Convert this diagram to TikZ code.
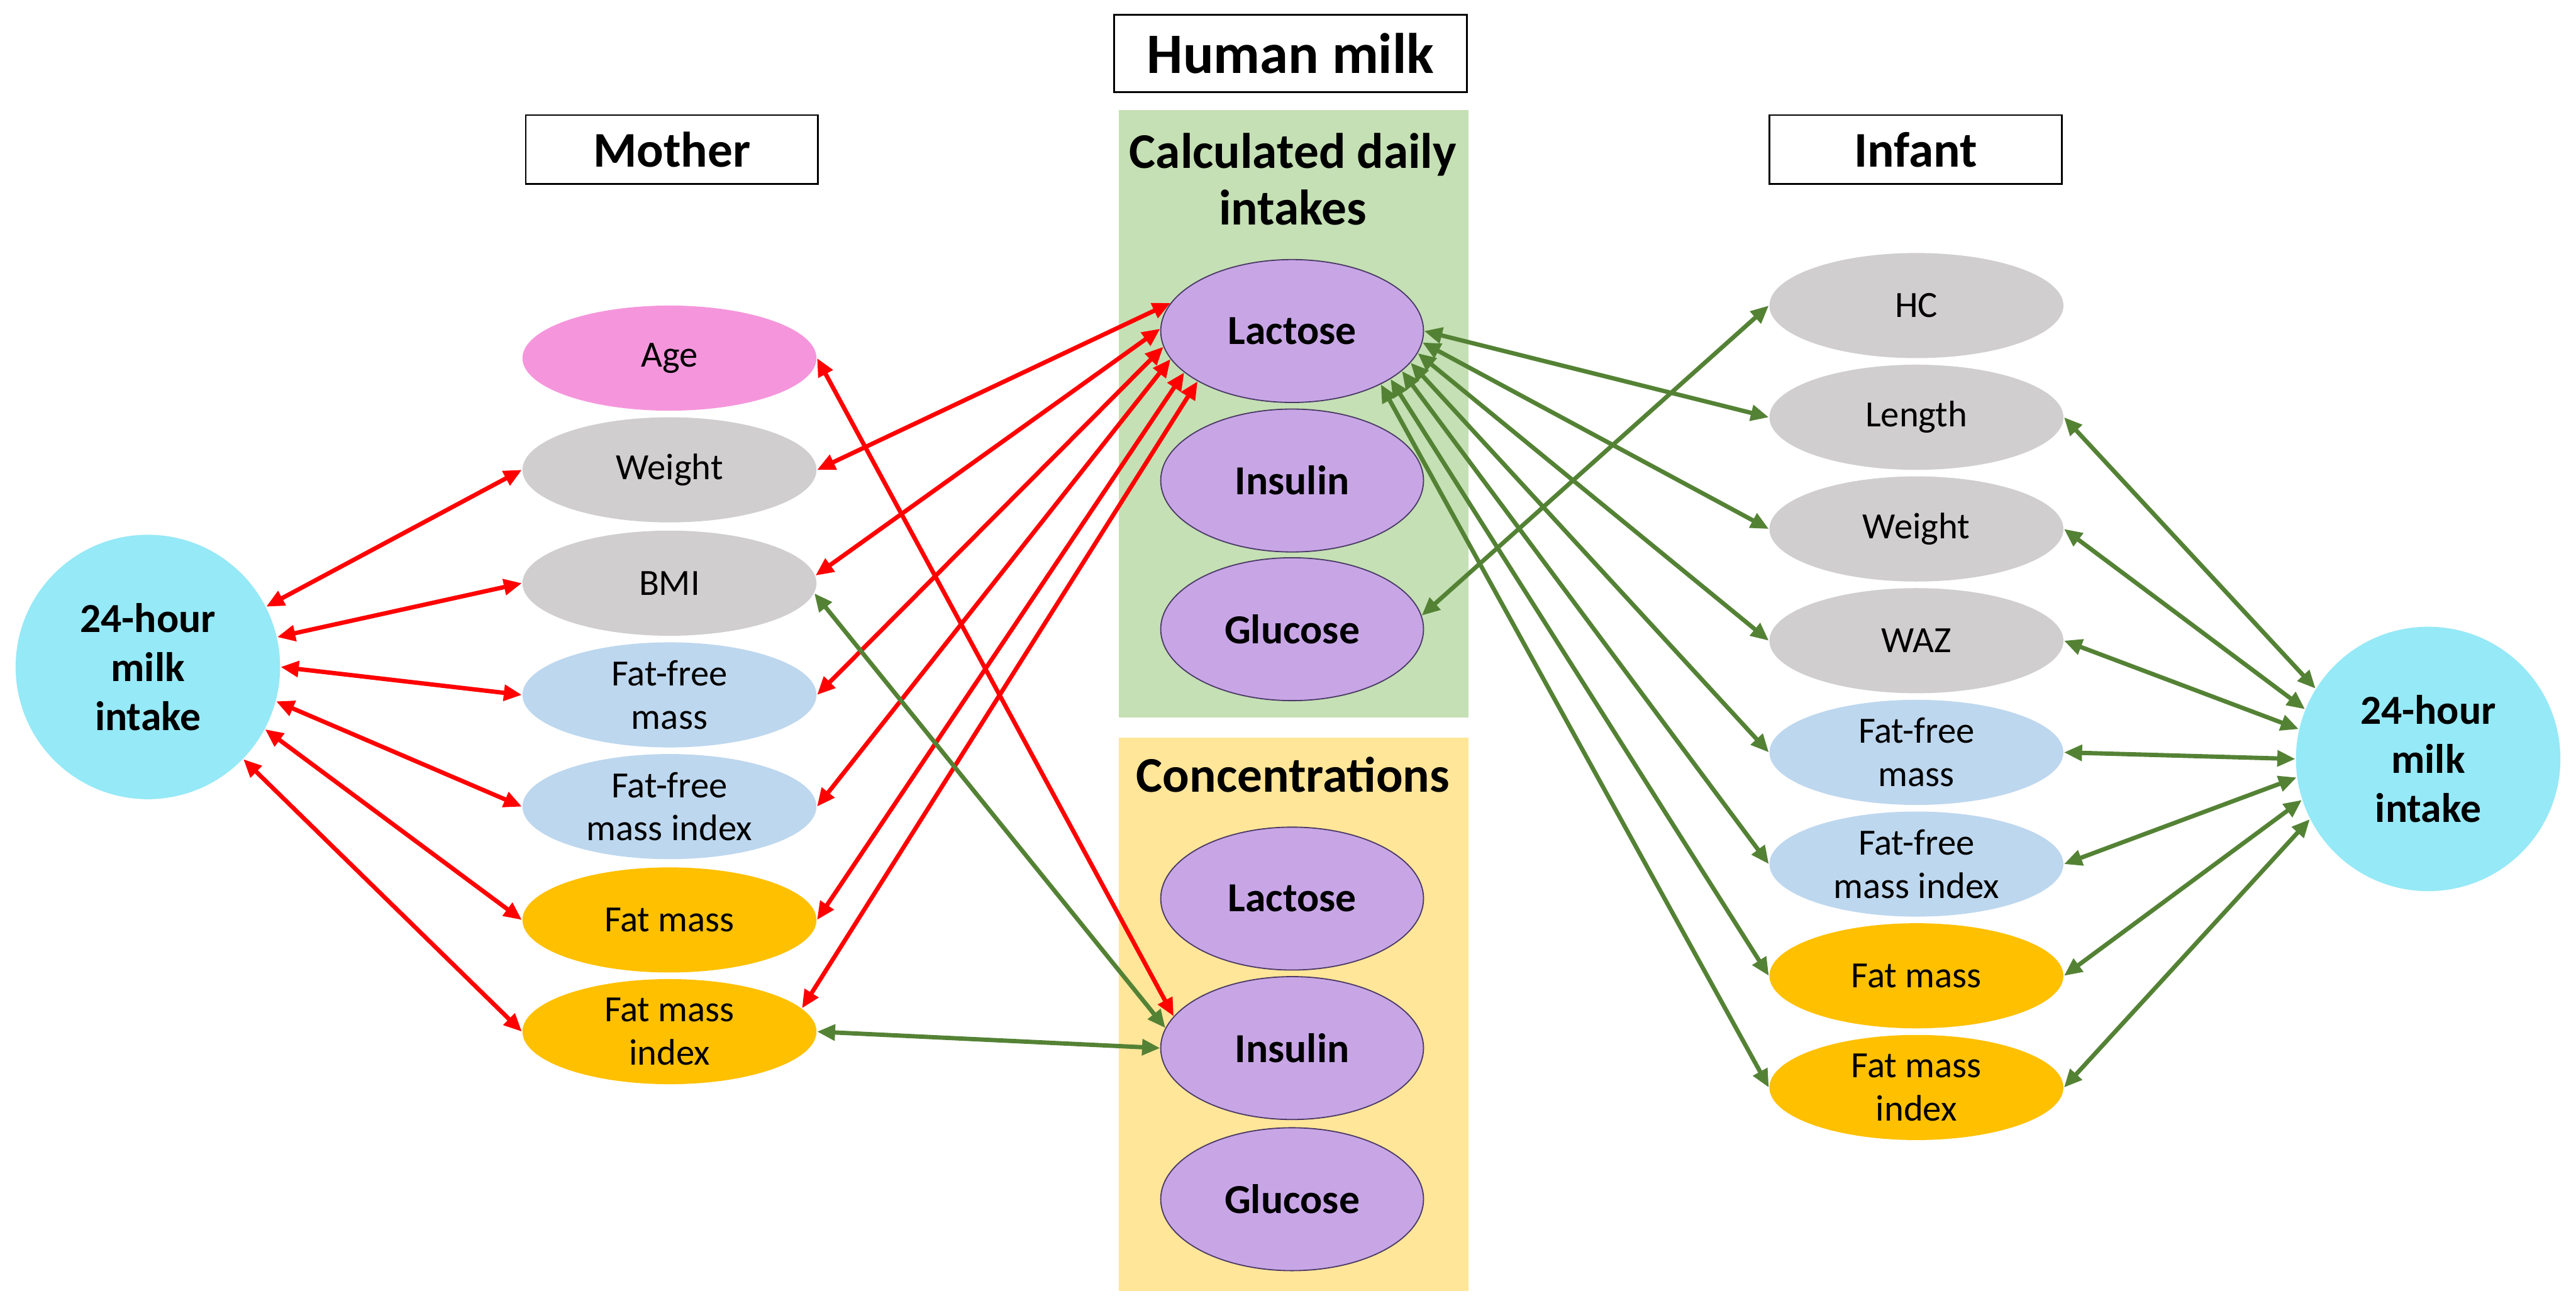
\documentclass[tikz,border=0pt]{standalone}
\usepackage{fontspec}
\setmainfont{Carlito}
\usepackage{tikz}
\usetikzlibrary{arrows.meta,shapes.geometric}
\definecolor{milkcyan}{HTML}{96E9F6}
\definecolor{agepink}{HTML}{F596DC}
\definecolor{anthgray}{HTML}{D0CECE}
\definecolor{leanblue}{HTML}{BDD7EE}
\definecolor{fatgold}{HTML}{FFC000}
\definecolor{compviolet}{HTML}{C8A6E6}
\definecolor{violetedge}{HTML}{4B3A66}
\definecolor{dailygreen}{HTML}{C5E0B4}
\definecolor{concyellow}{HTML}{FFE699}
\definecolor{assocred}{HTML}{FF0000}
\definecolor{assocgreen}{HTML}{548235}

\begin{document}
\begin{tikzpicture}[x=0.02cm, y=-0.02cm,
  headbox/.style={draw=black, line width=0.6pt, minimum width=3.56cm, minimum height=0.84cm,
                  inner sep=0pt, font=\fontsize{17.3}{19}\selectfont\bfseries},
  panel/.style={minimum width=4.26cm, inner sep=0pt},
  paneltitle/.style={align=center, inner sep=0pt, font=\fontsize{17.3}{19.5}\selectfont\bfseries},
  measure/.style={ellipse, minimum width=3.58cm, minimum height=1.28cm, inner sep=0pt,
                  align=center, font=\fontsize{12.8}{15}\selectfont},
  comp/.style={ellipse, fill=compviolet, draw=violetedge, line width=0.4pt, minimum width=3.2cm,
               minimum height=1.74cm, inner sep=0pt, font=\fontsize{14.3}{16.5}\selectfont\bfseries},
  intake/.style={circle, fill=milkcyan, minimum size=3.22cm, inner sep=0pt, align=center,
                 font=\fontsize{14.3}{17}\selectfont\bfseries},
  redarr/.style={<->, >={Triangle[length=2.2mm,width=1.9mm]}, line width=1.5pt, draw=assocred},
  grnarr/.style={<->, >={Triangle[length=2.2mm,width=1.9mm]}, line width=1.5pt, draw=assocgreen}
]
  \useasboundingbox (0,0) rectangle (1568,796);

  \node[panel, fill=dailygreen, minimum height=7.4cm] (daily) at (787.5,252) {};
  \node[panel, fill=concyellow, minimum height=6.74cm] (conc) at (787.5,617.5) {};
  \node[paneltitle] (dailytitle) at (787,109) {Calculated daily\\intakes};
  \node[paneltitle, anchor=base] (conctitle) at (787,482) {Concentrations};

  \node[headbox, minimum width=4.3cm, minimum height=0.94cm,
        font=\fontsize{19.8}{22}\selectfont\bfseries] (milkhead) at (785.5,32.5) {Human milk};
  \node[headbox] (motherhead) at (409,91) {Mother};
  \node[headbox] (infanthead) at (1166,91) {Infant};

  \node[intake] (lmilk) at (90,406) {24-hour\\milk\\intake};
  \node[intake] (rmilk) at (1478,462) {24-hour\\milk\\intake};

  \node[measure, fill=agepink] (mage) at (407.5,218) {Age};
  \node[measure, fill=anthgray] (mweight) at (407.5,286) {Weight};
  \node[measure, fill=anthgray] (mbmi) at (407.5,355) {BMI};
  \node[measure, fill=leanblue] (mffm) at (407.5,423) {Fat-free\\mass};
  \node[measure, fill=leanblue] (mffmi) at (407.5,491) {Fat-free\\mass index};
  \node[measure, fill=fatgold] (mfm) at (407.5,560) {Fat mass};
  \node[measure, fill=fatgold] (mfmi) at (407.5,628) {Fat mass\\index};

  \node[comp] (lacd) at (786.5,201.5) {Lactose};
  \node[comp] (insd) at (786.5,292.5) {Insulin};
  \node[comp] (glud) at (786.5,383) {Glucose};
  \node[comp] (lacc) at (786.5,547) {Lactose};
  \node[comp] (insc) at (786.5,638) {Insulin};
  \node[comp] (gluc) at (786.5,730) {Glucose};

  \node[measure, fill=anthgray] (ihc) at (1166.5,186) {HC};
  \node[measure, fill=anthgray] (ilength) at (1166.5,254) {Length};
  \node[measure, fill=anthgray] (iweight) at (1166.5,322) {Weight};
  \node[measure, fill=anthgray] (iwaz) at (1166.5,390) {WAZ};
  \node[measure, fill=leanblue] (iffm) at (1166.5,458) {Fat-free\\mass};
  \node[measure, fill=leanblue] (iffmi) at (1166.5,526) {Fat-free\\mass index};
  \node[measure, fill=fatgold] (ifm) at (1166.5,594) {Fat mass};
  \node[measure, fill=fatgold] (ifmi) at (1166.5,662) {Fat mass\\index};

  \draw[redarr] (lmilk.27) -- (mweight.west);
  \draw[redarr] (lmilk.13) -- (mbmi.west);
  \draw[redarr] (lmilk.0) -- (mffm.west);
  \draw[redarr] (lmilk.-15) -- (mffmi.west);
  \draw[redarr] (lmilk.-28) -- (mfm.west);
  \draw[redarr] (lmilk.-44) -- (mfmi.west);
  \draw[redarr] (mweight.east) -- (lacd.167);
  \draw[redarr] (mbmi.3) -- (lacd.179);
  \draw[redarr] (mffm.east) -- (lacd.187);
  \draw[redarr] (mffmi.east) -- (lacd.193);
  \draw[redarr] (mfm.east) -- (lacd.201);
  \draw[redarr] (mfmi.10) -- (lacd.208);
  \draw[redarr] (mage.east) -- (insc.165);

  \draw[grnarr] (mbmi.-4) -- (insc.171);
  \draw[grnarr] (mfmi.east) -- (insc.west);
  \draw[grnarr] (lacd.0) -- (ilength.west);
  \draw[grnarr] (lacd.-5) -- (iweight.west);
  \draw[grnarr] (lacd.-10) -- (iwaz.west);
  \draw[grnarr] (lacd.-15) -- (iffm.west);
  \draw[grnarr] (lacd.-20) -- (iffmi.west);
  \draw[grnarr] (lacd.-26) -- (ifm.west);
  \draw[grnarr] (lacd.-31) -- (ifmi.west);
  \draw[grnarr] (glud.6) -- (ihc.west);
  \draw[grnarr] (ilength.east) -- (rmilk.148);
  \draw[grnarr] (iweight.east) -- (rmilk.158);
  \draw[grnarr] (iwaz.east) -- (rmilk.167);
  \draw[grnarr] (iffm.east) -- (rmilk.180);
  \draw[grnarr] (iffmi.east) -- (rmilk.188);
  \draw[grnarr] (ifm.east) -- (rmilk.198);
  \draw[grnarr] (ifmi.east) -- (rmilk.207);
\end{tikzpicture}
\end{document}
